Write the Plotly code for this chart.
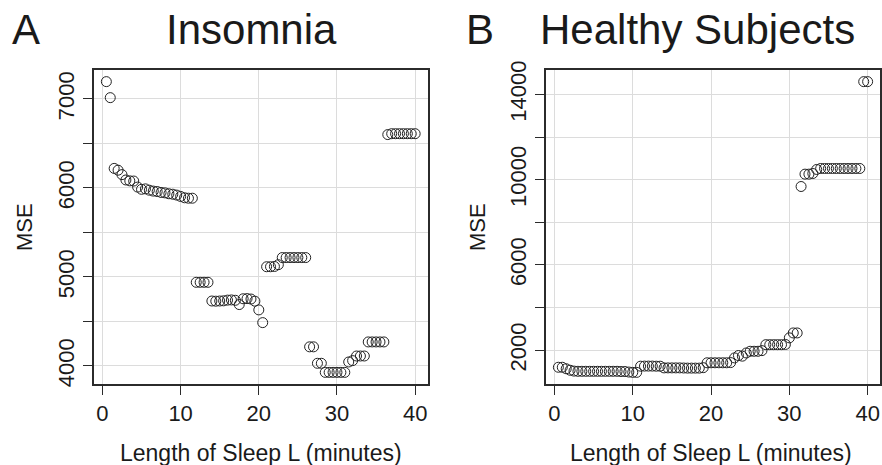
import plotly.graph_objects as go

# ---------------- data ----------------
sleep_length = [0.5, 1.0, 1.5, 2.0, 2.5, 3.0, 3.5, 4.0, 4.5, 5.0,
                5.5, 6.0, 6.5, 7.0, 7.5, 8.0, 8.5, 9.0, 9.5, 10.0,
                10.5, 11.0, 11.5, 12.0, 12.5, 13.0, 13.5, 14.0, 14.5, 15.0,
                15.5, 16.0, 16.5, 17.0, 17.5, 18.0, 18.5, 19.0, 19.5, 20.0,
                20.5, 21.0, 21.5, 22.0, 22.5, 23.0, 23.5, 24.0, 24.5, 25.0,
                25.5, 26.0, 26.5, 27.0, 27.5, 28.0, 28.5, 29.0, 29.5, 30.0,
                30.5, 31.0, 31.5, 32.0, 32.5, 33.0, 33.5, 34.0, 34.5, 35.0,
                35.5, 36.0, 36.5, 37.0, 37.5, 38.0, 38.5, 39.0, 39.5, 40.0]

mse_insomnia = [7195, 7015, 6220, 6200, 6150, 6090, 6080, 6078, 6010, 5985,
                5990, 5975, 5965, 5960, 5950, 5945, 5935, 5930, 5920, 5905,
                5890, 5885, 5885, 4940, 4940, 4940, 4940, 4730, 4728, 4730,
                4732, 4740, 4742, 4738, 4690, 4755, 4757, 4752, 4728, 4630,
                4487, 5115, 5115, 5118, 5138, 5218, 5218, 5218, 5218, 5218,
                5218, 5218, 4215, 4215, 4030, 4030, 3928, 3928, 3928, 3928,
                3928, 3928, 4045, 4060, 4112, 4112, 4112, 4270, 4270, 4270,
                4270, 4270, 6600, 6610, 6610, 6610, 6610, 6610, 6610, 6610]

mse_healthy = [1200, 1200, 1130, 1060, 1020, 1010, 1010, 1010, 1010, 1010,
               1010, 1010, 1010, 1010, 1010, 1010, 1000, 1000, 975, 960,
               960, 1250, 1255, 1255, 1255, 1250, 1250, 1170, 1170, 1170,
               1170, 1170, 1165, 1160, 1160, 1160, 1160, 1180, 1410, 1410,
               1410, 1410, 1410, 1410, 1420, 1640, 1750, 1720, 1870, 1950,
               1950, 1950, 1980, 2260, 2260, 2260, 2260, 2260, 2270, 2580,
               2810, 2810, 9680, 10260, 10260, 10290, 10480, 10525, 10525, 10525,
               10525, 10525, 10525, 10525, 10525, 10525, 10525, 10525, 14600, 14600]

x_ticks = [0, 10, 20, 30, 40]
ins_ticks = [4000, 4500, 5000, 5500, 6000, 6500, 7000]
ins_ticktext = ["4000", "", "5000", "", "6000", "", "7000"]
hea_ticks = [2000, 4000, 6000, 8000, 10000, 12000, 14000]
hea_ticktext = ["2000", "", "6000", "", "10000", "", "14000"]

panel_letters = ["A", "B"]
panel_titles = ["Insomnia", "Healthy Subjects"]
x_title = "Length of Sleep L (minutes)"
y_title = "MSE"

# ---------------- helpers ----------------
W, H = 882, 465
FONT = "Liberation Sans"
TXT = "#1a1a1a"


def pad_range(vals, frac=0.04):
    lo, hi = min(vals), max(vals)
    d = (hi - lo) * frac
    return [lo - d, hi + d]


def px(x):
    return x / W


def py(y):
    return 1 - y / H


marker = dict(symbol="circle-open", size=10, color="#222222",
              line=dict(width=1, color="#222222"))

fig = go.Figure()
fig.add_trace(go.Scatter(x=sleep_length, y=mse_insomnia, mode="markers",
                         marker=marker, xaxis="x", yaxis="y",
                         showlegend=False, cliponaxis=False))
fig.add_trace(go.Scatter(x=sleep_length, y=mse_healthy, mode="markers",
                         marker=marker, xaxis="x2", yaxis="y2",
                         showlegend=False, cliponaxis=False))

top, bottom = 70, 384
ydom = [py(bottom), py(top)]
xdomA = [px(94), px(427.5)]
xdomB = [px(546), px(880)]

common_x = dict(range=pad_range(sleep_length), tickvals=x_ticks,
                showgrid=True, gridcolor="#dcdcdc", gridwidth=1,
                zeroline=False, showline=True, linecolor="#2b2b2b",
                linewidth=1.5, mirror=True, ticks="outside", ticklen=9,
                tickwidth=1, tickcolor="#2b2b2b",
                tickfont=dict(family=FONT, size=22, color=TXT),
                automargin=False, fixedrange=True)
common_y = dict(showgrid=True, gridcolor="#dcdcdc", gridwidth=1,
                zeroline=False, showline=True, linecolor="#2b2b2b",
                linewidth=1.5, mirror=True, ticks="outside", ticklen=9,
                tickwidth=1, tickcolor="#2b2b2b", tickangle=-90,
                tickfont=dict(family=FONT, size=22, color=TXT),
                automargin=False, fixedrange=True)

fig.update_layout(
    width=W, height=H,
    margin=dict(l=0, r=0, t=0, b=0),
    paper_bgcolor="white", plot_bgcolor="white",
    font=dict(family=FONT, color=TXT),
    xaxis=dict(domain=xdomA, anchor="y", **common_x),
    yaxis=dict(domain=ydom, anchor="x", range=pad_range(mse_insomnia),
               tickvals=ins_ticks, ticktext=ins_ticktext, **common_y),
    xaxis2=dict(domain=xdomB, anchor="y2", **common_x),
    yaxis2=dict(domain=ydom, anchor="x2", range=pad_range(mse_healthy),
                tickvals=hea_ticks, ticktext=hea_ticktext, **common_y),
)

ann = []
# panel letters and titles
ann.append(dict(text=panel_letters[0], x=px(10), y=py(29), xanchor="left",
                yanchor="middle", font=dict(size=42)))
ann.append(dict(text=panel_titles[0], x=px(251), y=py(29), xanchor="center",
                yanchor="middle", font=dict(size=42)))
ann.append(dict(text=panel_letters[1], x=px(464), y=py(29), xanchor="left",
                yanchor="middle", font=dict(size=42)))
ann.append(dict(text=panel_titles[1], x=px(697.5), y=py(29), xanchor="center",
                yanchor="middle", font=dict(size=42)))
# axis titles
for cx in (261, 711):
    ann.append(dict(text=x_title, x=px(cx), y=py(453), xanchor="center",
                    yanchor="middle", font=dict(size=23)))
for cx in (24, 477):
    ann.append(dict(text=y_title, x=px(cx), y=py(227), xanchor="center",
                    yanchor="middle", textangle=-90, font=dict(size=22)))

for a in ann:
    a.update(xref="paper", yref="paper", showarrow=False)
    a["font"].update(family=FONT, color=TXT)

fig.update_layout(annotations=ann)
fig.write_html("out.html")
